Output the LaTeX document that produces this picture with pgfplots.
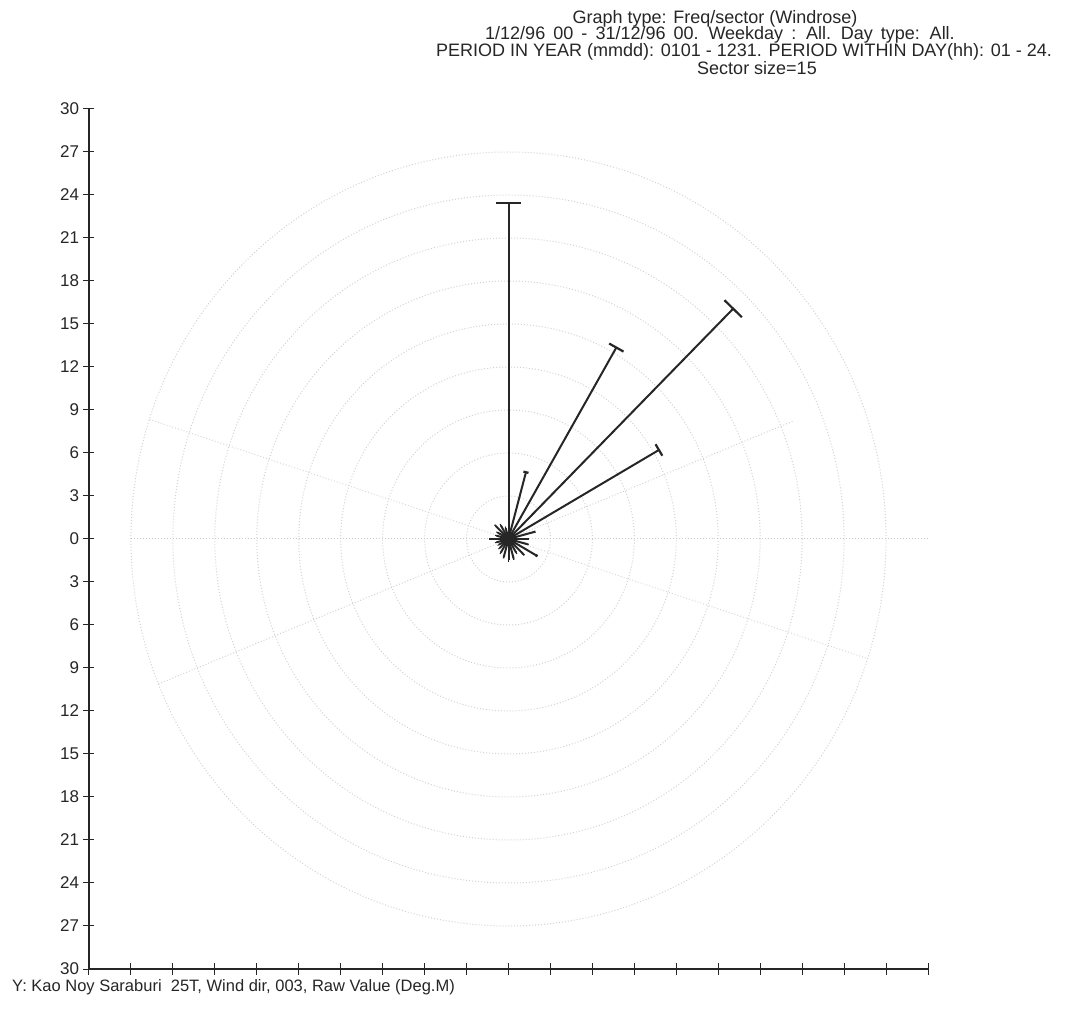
\documentclass[border=0pt]{standalone}
\usepackage{fontspec}
\setmainfont{Liberation Sans}
\usepackage{pgfplots}
\pgfplotsset{compat=1.18}
\usepackage{pgfplotstable}
\usetikzlibrary{arrows.meta}

% direction (deg, clockwise from north) and frequency per 15-degree sector
\pgfplotstableread{
a r
0 23.5
15 4.9
30 15.5
45 22.8
60 12.5
75 2.0
90 1.5
105 1.5
120 2.4
135 1.6
150 1.2
165 1.5
180 1.6
195 1.4
210 1.2
225 1.0
240 0.9
255 1.0
270 1.4
285 1.0
300 1.0
315 1.4
330 1.2
345 0.9
}\rosedata

\begin{document}
\begin{tikzpicture}
\useasboundingbox (-89bp,-51bp) rectangle (983bp,969bp);
\begin{axis}[
  at={(0,0)}, anchor=south west,
  scale only axis, width=839bp, height=860bp,
  xmin=-30, xmax=30, ymin=-30, ymax=30,
  axis lines=left,
  axis line style={-, line width=1.6bp, black!85},
  xtick={-30,-27,...,30}, xticklabels={},
  ytick={-30,-27,...,30},
  yticklabels={30,27,24,21,18,15,12,9,6,3,0,3,6,9,12,15,18,21,24,27,30},
  tick align=center, major tick length=11bp,
  tick style={line width=1bp, black!85},
  /pgf/number format/assume math mode=true,
  yticklabel style={font=\fontsize{17bp}{19bp}\selectfont, text=black!85, xshift=-1bp},
  clip=false,
]
\pgfplotsinvokeforeach{3,6,...,27}{
  \draw[gray!35, dotted, line width=1bp] (axis cs:0,0) ellipse [x radius=#1, y radius=#1];
}
\draw[gray!40, dotted, line width=1bp] (axis cs:-27,0) -- (axis cs:30,0);
\draw[gray!35, dotted, line width=1bp] (axis cs:{-27*cos(22)},{-27*sin(22)}) -- (axis cs:{22*cos(22)},{22*sin(22)});
\draw[gray!30, dotted, line width=1bp] (axis cs:{-27*cos(18)},{27*sin(18)}) -- (axis cs:{27*cos(18)},{-27*sin(18)});

\addplot[black!85, line width=2bp,
  point meta=\thisrow{r}, point meta min=0, point meta max=30,
  quiver={u=\thisrow{r}*sin(\thisrow{a}), v=\thisrow{r}*cos(\thisrow{a}),
    every arrow/.append style={-{Bar[width=\pgfplotspointmetatransformed*0.032bp, line width=2.2bp]}}}]
  table[x expr=0, y expr=0] {\rosedata};
\addplot[only marks, mark=*, mark size=7bp, black!85] coordinates {(0,0)};
\end{axis}
\begin{scope}[every node/.style={font=\fontsize{18bp}{19bp}\selectfont, text=black!85, inner sep=0pt}]
\node at (626bp,950.5bp) {Graph type: Freq/sector (Windrose)};
\node at (631bp,934bp) {\spaceskip=0.45em\relax 1/12/96 00 - 31/12/96 00. Weekday : All. Day type: All.};
\node at (655bp,917.5bp) {PERIOD IN YEAR (mmdd): 0101 - 1231. PERIOD WITHIN DAY(hh): 01 - 24.};
\node at (668bp,901bp) {Sector size=15};
\node[anchor=west, font=\fontsize{16.5bp}{18bp}\selectfont] at (-77bp,-18bp) {Y: Kao Noy Saraburi\ \ 25T, Wind dir, 003, Raw Value (Deg.M)};
\end{scope}
\end{tikzpicture}
\end{document}
